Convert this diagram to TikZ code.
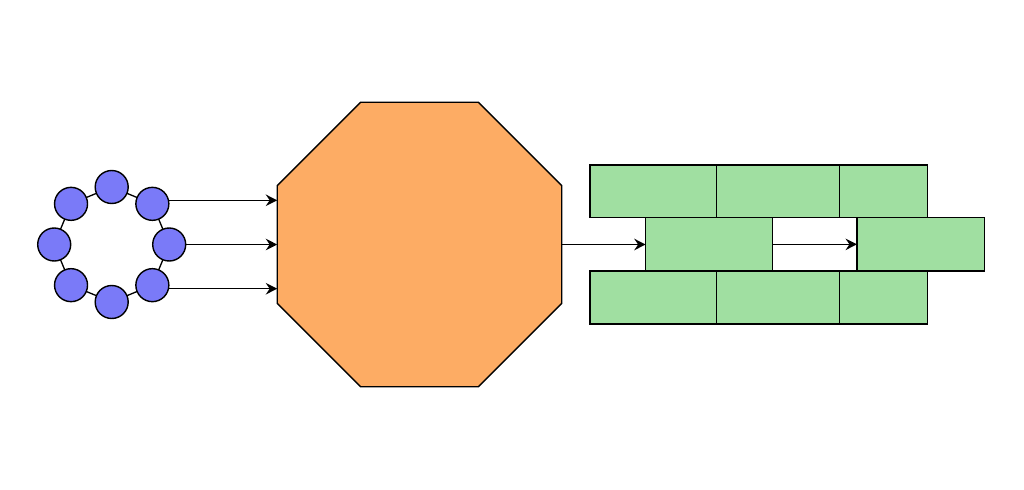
\documentclass[tikz,border=0pt]{standalone}
\usetikzlibrary{shapes.geometric,arrows.meta}
\definecolor{dotblue}{RGB}{122,122,248}
\definecolor{octorange}{RGB}{253,172,100}
\definecolor{brickgreen}{RGB}{160,223,161}
\tikzset{
  dot/.style={circle,draw=black,fill=dotblue,line width=0.8pt,minimum size=0.66cm,inner sep=0pt},
  ring/.style={draw=black,line width=0.75pt},
  octo/.style={regular polygon,regular polygon sides=8,draw=black,fill=octorange,line width=0.75pt,minimum size=6.16cm,inner sep=0pt,outer sep=0pt},
  brick/.style={draw=black,fill=brickgreen,line width=0.75pt},
  flow/.style={draw=black,line width=0.8pt,-{Stealth[length=6.5pt,width=6.5pt,inset=2.2pt]}}
}
\begin{document}
\begin{tikzpicture}[x=0.02cm,y=-0.02cm]
\useasboundingbox (0,0) rectangle (1024,490);
% ring of circles
\foreach \n/\a in {t/90,tr/45,r/0,br/-45,b/-90,bl/-135,l/180,tl/135}{
  \coordinate (p\n) at ({111.7+57.5*cos(\a)},{244.5-57.5*sin(\a)});
}
\draw[ring] (pt) -- (ptr) -- (pr) -- (pbr) -- (pb) -- (pbl) -- (pl) -- (ptl) -- cycle;
\foreach \n in {t,tr,r,br,b,bl,l,tl}{
  \node[dot] (\n) at (p\n) {};
}
% octagon
\node[octo] (oct) at (419.5,244.5) {};
% bricks
\path[brick] (590,165) rectangle (716.7,217.7) node[pos=0.5] (b11) {};
\path[brick] (716.7,165) rectangle (839.3,217.7) node[pos=0.5] (b12) {};
\path[brick] (839.3,165) rectangle (927.7,217.7) node[pos=0.5] (b13) {};
\path[brick] (590,271) rectangle (716.7,324) node[pos=0.5] (b31) {};
\path[brick] (716.7,271) rectangle (839.3,324) node[pos=0.5] (b32) {};
\path[brick] (839.3,271) rectangle (927.7,324) node[pos=0.5] (b33) {};
\node[brick,minimum width=2.532cm,minimum height=1.066cm,inner sep=0pt,outer sep=0pt,anchor=north west] (m1) at (645.7,217.7) {};
\node[brick,minimum width=2.546cm,minimum height=1.066cm,inner sep=0pt,outer sep=0pt,anchor=north west] (m2) at (857,217.7) {};
% arrows
\draw[flow] (tr.12) -- (tr.12 -| oct.west);
\draw[flow] (r.east) -- (r.east -| oct.west);
\draw[flow] (br.-12) -- (br.-12 -| oct.west);
\draw[flow] (oct.east) -- (oct.east -| m1.west);
\draw[flow] (m1.east) -- (m2.west);
\end{tikzpicture}
\end{document}
